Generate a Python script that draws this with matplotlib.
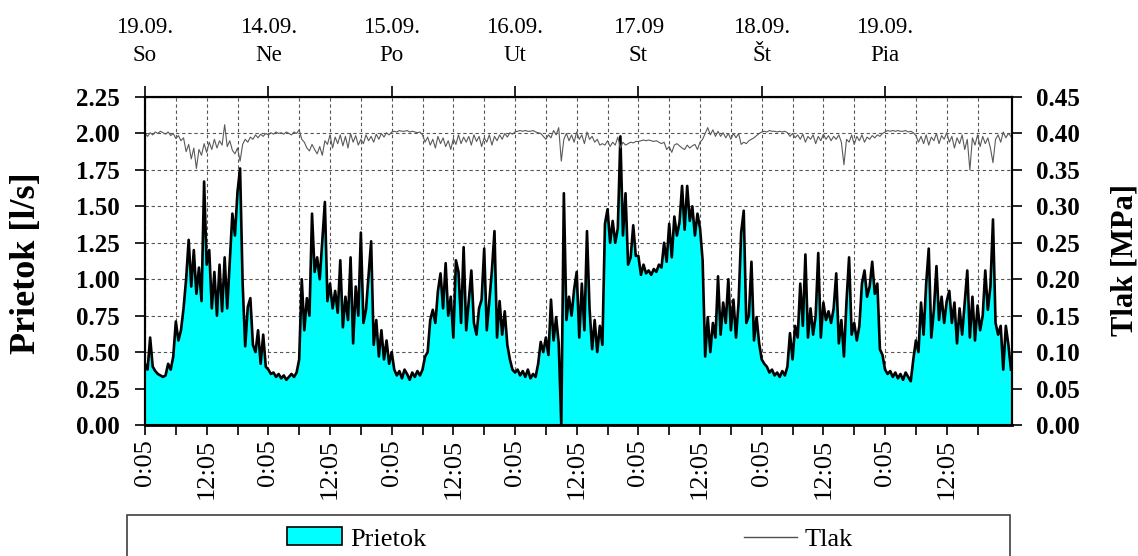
import numpy as np
import matplotlib
matplotlib.use("Agg")
import matplotlib.pyplot as plt
from matplotlib.patches import Rectangle, Patch
from matplotlib.lines import Line2D
from matplotlib.transforms import blended_transform_factory

plt.rcParams['font.family'] = ['Liberation Serif', 'DejaVu Serif']

# ---------------- data ----------------
step_hours = 0.5  # sampling interval of the series below (hours from 0:05 of day 1)

# Prietok [l/s], one list per day (48 half-hour samples)
prietok_d1 = [0.42, 0.38, 0.60, 0.40, 0.37, 0.35, 0.34, 0.33, 0.34, 0.42, 0.38, 0.47,
              0.71, 0.58, 0.65, 0.80, 1.00, 1.27, 0.95, 1.20, 0.90, 1.08, 0.85, 1.67,
              1.10, 1.20, 0.80, 1.05, 0.75, 1.10, 0.78, 1.15, 0.80, 1.12, 1.45, 1.30,
              1.60, 1.76, 0.97, 0.54, 0.81, 0.87, 0.55, 0.50, 0.65, 0.42, 0.62, 0.40]
prietok_d2 = [0.38, 0.35, 0.36, 0.33, 0.35, 0.32, 0.34, 0.31, 0.33, 0.35, 0.33, 0.36,
              0.45, 1.00, 0.65, 0.87, 0.75, 1.45, 1.05, 1.15, 1.00, 1.27, 1.53, 0.85,
              0.97, 0.80, 0.92, 0.77, 1.13, 0.67, 0.88, 0.72, 1.15, 0.56, 0.95, 0.75,
              1.32, 0.70, 0.79, 1.03, 1.26, 0.55, 0.72, 0.47, 0.65, 0.45, 0.58, 0.42]
prietok_d3 = [0.50, 0.38, 0.34, 0.37, 0.32, 0.38, 0.35, 0.31, 0.36, 0.33, 0.37, 0.34,
              0.38, 0.47, 0.50, 0.72, 0.79, 0.70, 0.92, 1.04, 0.80, 1.11, 0.75, 0.88,
              0.60, 1.13, 1.05, 0.70, 1.22, 0.65, 0.85, 1.06, 0.70, 0.62, 0.80, 0.86,
              1.21, 0.65, 0.85, 1.06, 1.33, 0.60, 0.85, 0.62, 0.78, 0.55, 0.45, 0.38]
prietok_d4 = [0.36, 0.38, 0.34, 0.37, 0.33, 0.38, 0.32, 0.35, 0.33, 0.42, 0.57, 0.50,
              0.60, 0.48, 0.86, 0.58, 0.74, 0.56, 0.00, 1.59, 0.72, 0.88, 0.75, 0.93,
              1.05, 0.60, 0.97, 0.65, 1.33, 0.80, 0.52, 0.72, 0.50, 0.68, 0.55, 1.38,
              1.48, 1.25, 1.40, 1.25, 1.35, 1.98, 1.30, 1.59, 1.10, 1.15, 1.37, 1.16]
prietok_d5 = [1.16, 1.03, 1.10, 1.04, 1.06, 1.03, 1.07, 1.05, 1.10, 1.08, 1.25, 1.12,
              1.38, 1.15, 1.43, 1.30, 1.39, 1.64, 1.34, 1.64, 1.40, 1.50, 1.30, 1.45,
              1.35, 1.13, 0.47, 0.74, 0.50, 0.70, 0.60, 1.02, 0.62, 0.84, 0.70, 1.00,
              0.65, 0.86, 0.60, 0.84, 1.32, 1.47, 0.70, 0.75, 1.12, 0.58, 0.74, 0.56]
prietok_d6 = [0.45, 0.42, 0.40, 0.36, 0.38, 0.34, 0.36, 0.33, 0.37, 0.34, 0.40, 0.63,
              0.45, 0.68, 0.60, 0.97, 0.68, 1.17, 0.60, 0.80, 0.62, 0.75, 1.18, 0.60,
              0.84, 0.72, 0.78, 0.70, 0.80, 1.04, 0.56, 0.72, 0.47, 0.85, 1.15, 0.62,
              0.70, 0.58, 0.68, 0.97, 1.06, 0.88, 0.95, 1.12, 0.90, 0.97, 0.52, 0.48]
prietok_d7 = [0.38, 0.35, 0.37, 0.33, 0.36, 0.32, 0.35, 0.31, 0.36, 0.33, 0.30, 0.45,
              0.58, 0.50, 0.84, 0.62, 0.97, 1.21, 0.60, 0.79, 1.09, 0.72, 0.88, 0.70,
              0.85, 0.92, 0.70, 0.84, 0.56, 0.80, 0.62, 0.84, 1.06, 0.60, 0.88, 0.58,
              0.82, 0.65, 0.75, 1.06, 0.79, 0.95, 1.41, 0.70, 0.62, 0.68, 0.38, 0.68,
              0.55, 0.38]

# Tlak [MPa]
tlak_d1 = [0.400, 0.396, 0.401, 0.398, 0.402, 0.400, 0.403, 0.401, 0.399, 0.402, 0.397, 0.400,
           0.393, 0.397, 0.390, 0.394, 0.375, 0.385, 0.365, 0.380, 0.352, 0.378, 0.370, 0.386,
           0.374, 0.388, 0.378, 0.392, 0.380, 0.390, 0.384, 0.412, 0.382, 0.390, 0.377, 0.372,
           0.380, 0.362, 0.385, 0.392, 0.388, 0.395, 0.392, 0.398, 0.394, 0.399, 0.396, 0.400]
tlak_d2 = [0.398, 0.401, 0.399, 0.402, 0.400, 0.401, 0.399, 0.402, 0.400, 0.398, 0.402, 0.400,
           0.405, 0.392, 0.388, 0.380, 0.376, 0.385, 0.378, 0.372, 0.382, 0.370, 0.390, 0.385,
           0.398, 0.380, 0.395, 0.386, 0.398, 0.383, 0.396, 0.380, 0.400, 0.388, 0.397, 0.384,
           0.392, 0.386, 0.398, 0.390, 0.396, 0.388, 0.399, 0.392, 0.400, 0.395, 0.401, 0.398]
tlak_d3 = [0.402, 0.403, 0.402, 0.404, 0.403, 0.403, 0.404, 0.402, 0.403, 0.402, 0.401, 0.402,
           0.398, 0.388, 0.395, 0.384, 0.392, 0.380, 0.396, 0.386, 0.394, 0.382, 0.390, 0.378,
           0.393, 0.385, 0.398, 0.386, 0.395, 0.388, 0.396, 0.384, 0.398, 0.389, 0.396, 0.382,
           0.394, 0.388, 0.398, 0.384, 0.396, 0.390, 0.398, 0.392, 0.400, 0.395, 0.401, 0.399]
tlak_d4 = [0.402, 0.403, 0.404, 0.403, 0.404, 0.403, 0.403, 0.404, 0.402, 0.401, 0.400, 0.396,
           0.392, 0.398, 0.394, 0.404, 0.398, 0.408, 0.362, 0.392, 0.400, 0.390, 0.398, 0.388,
           0.402, 0.392, 0.398, 0.386, 0.402, 0.392, 0.396, 0.388, 0.392, 0.384, 0.386, 0.384,
           0.390, 0.382, 0.388, 0.384, 0.395, 0.380, 0.388, 0.384, 0.386, 0.388, 0.387, 0.389]
tlak_d5 = [0.389, 0.390, 0.391, 0.390, 0.391, 0.390, 0.389, 0.390, 0.388, 0.386, 0.388, 0.378,
           0.382, 0.374, 0.384, 0.386, 0.383, 0.380, 0.378, 0.384, 0.380, 0.383, 0.385, 0.378,
           0.388, 0.392, 0.400, 0.408, 0.398, 0.405, 0.396, 0.403, 0.396, 0.401, 0.394, 0.400,
           0.392, 0.400, 0.394, 0.400, 0.385, 0.388, 0.386, 0.390, 0.392, 0.394, 0.397, 0.400]
tlak_d6 = [0.402, 0.403, 0.402, 0.404, 0.403, 0.403, 0.402, 0.403, 0.402, 0.403, 0.401, 0.396,
           0.400, 0.394, 0.398, 0.392, 0.399, 0.388, 0.396, 0.392, 0.398, 0.386, 0.396, 0.390,
           0.399, 0.392, 0.397, 0.390, 0.396, 0.392, 0.398, 0.388, 0.357, 0.392, 0.388, 0.398,
           0.385, 0.396, 0.390, 0.398, 0.388, 0.395, 0.392, 0.397, 0.394, 0.398, 0.396, 0.400]
tlak_d7 = [0.402, 0.404, 0.403, 0.404, 0.403, 0.404, 0.403, 0.403, 0.404, 0.402, 0.403, 0.401,
           0.397, 0.388, 0.396, 0.386, 0.398, 0.384, 0.395, 0.390, 0.400, 0.386, 0.397, 0.392,
           0.401, 0.388, 0.396, 0.380, 0.394, 0.386, 0.398, 0.378, 0.392, 0.350, 0.394, 0.384,
           0.398, 0.382, 0.396, 0.386, 0.394, 0.380, 0.360, 0.392, 0.398, 0.388, 0.402, 0.394,
           0.400, 0.396]

day_dates = ["19.09.", "14.09.", "15.09.", "16.09.", "17.09", "18.09.", "19.09."]
day_names = ["So", "Ne", "Po", "Ut", "St", "Št", "Pia"]
time_labels = ["0:05", "12:05"] * 7
flow_ticks = [0.00, 0.25, 0.50, 0.75, 1.00, 1.25, 1.50, 1.75, 2.00, 2.25]
press_ticks = [0.00, 0.05, 0.10, 0.15, 0.20, 0.25, 0.30, 0.35, 0.40, 0.45]

prietok = np.array(prietok_d1 + prietok_d2 + prietok_d3 + prietok_d4 +
                   prietok_d5 + prietok_d6 + prietok_d7)
tlak = np.array(tlak_d1 + tlak_d2 + tlak_d3 + tlak_d4 + tlak_d5 + tlak_d6 + tlak_d7)
t = np.arange(len(prietok)) * step_hours

# ---------------- figure ----------------
W, H = 1138, 556
fig = plt.figure(figsize=(W / 100, H / 100), dpi=100)
L, R, T, B = 145, 1012, 97, 425
ax = fig.add_axes([L / W, 1 - B / H, (R - L) / W, (B - T) / H])

x_end = 168.7
ax.set_xlim(0, x_end)
ax.set_ylim(0, 2.25)
ax.set_axisbelow(True)

ax.fill_between(t, prietok, 0, color='#00FFFF', lw=0, zorder=2)
ax.plot(t, prietok, color='black', lw=1.9, zorder=3)

ax.set_xticks(np.arange(0, 157, 12))
ax.set_xticklabels(time_labels, rotation=90, fontsize=19)
ax.set_xticks(np.arange(6, x_end, 12), minor=True)
ax.set_yticks(flow_ticks)
ax.set_yticklabels([f"{v:.2f}" for v in flow_ticks], fontsize=18, fontweight='bold')

grid_kw = dict(color='#555555', lw=0.8, linestyle=(0, (3, 2.5)))
ax.grid(True, which='both', axis='x', **grid_kw)
ax.grid(True, which='major', axis='y', **grid_kw)

ax.tick_params(axis='x', which='both', direction='out', length=7, width=1.2, pad=3)
ax.tick_params(axis='y', which='both', direction='out', length=7, width=1.2, pad=11)

for s in ax.spines.values():
    s.set_linewidth(1.5)
ax.spines['bottom'].set_linewidth(2.0)

ax2 = ax.twinx()
ax2.set_ylim(0, 0.45)
ax2.plot(t, tlak, color='#5a5a5a', lw=0.8)
ax2.set_yticks(press_ticks)
ax2.set_yticklabels([f"{v:.2f}" for v in press_ticks], fontsize=18, fontweight='bold')
ax2.tick_params(axis='y', direction='out', length=7, width=1.2, pad=10)
for s in ax2.spines.values():
    s.set_linewidth(1.5)

# top axis with day ticks
sec = ax.secondary_xaxis('top')
day_pos = np.arange(0, 145, 24)
sec.set_xticks(day_pos)
sec.set_xticklabels([])
sec.tick_params(direction='out', length=8, width=1.2)

trans = blended_transform_factory(ax.transData, ax.transAxes)
for xp, dt, dn in zip(day_pos, day_dates, day_names):
    ax.text(xp, 1.195, dt, transform=trans, ha='center', va='baseline', fontsize=16.5)
    ax.text(xp, 1.110, dn, transform=trans, ha='center', va='baseline', fontsize=16.5)

# axis titles
fig.text(27 / W, 1 - 263 / H, "Prietok [l/s]", rotation=90, ha='center', va='center',
         fontsize=26, fontweight='bold')
fig.text(1125 / W, 1 - 260 / H, "Tlak [MPa]", rotation=90, ha='center', va='center',
         fontsize=22, fontweight='bold')

# legend box
lx0, lx1, ly0 = 127, 1010, 515
fig.patches.append(Rectangle((lx0 / W, -0.1), (lx1 - lx0) / W, 0.1 + (H - ly0) / H,
                             transform=fig.transFigure, fill=False,
                             edgecolor='#404040', lw=1.2))
mid = (lx0 + lx1) / 2
shift = 9
leg1 = fig.legend(handles=[Patch(facecolor='#00FFFF', edgecolor='black', lw=1.2, label='Prietok')],
                  loc='center', bbox_to_anchor=(((lx0 + mid) / 2 + shift) / W, 1 - 539 / H),
                  frameon=False, fontsize=19, handlelength=2.1, handleheight=0.65,
                  handletextpad=0.3, borderpad=0)
leg2 = fig.legend(handles=[Line2D([], [], color='#505050', lw=1.0, label='Tlak')],
                  loc='center', bbox_to_anchor=(((mid + lx1) / 2 + shift) / W, 1 - 539 / H),
                  frameon=False, fontsize=19, handlelength=2.0,
                  handletextpad=0.3, borderpad=0)

fig.savefig("out.png", dpi=100)
